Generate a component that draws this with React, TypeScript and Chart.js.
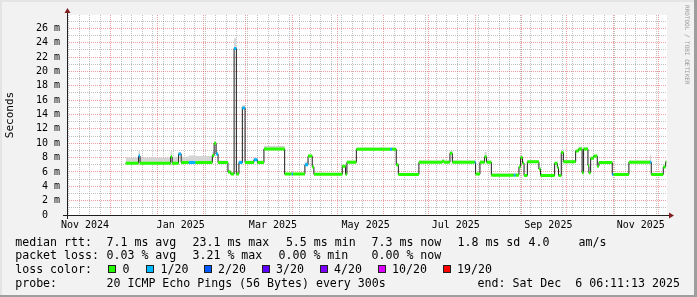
import React, { useEffect, useRef } from 'react';
import { Chart, registerables } from 'chart.js';

Chart.register(...registerables);

// ---- x axis: days since 2024-11-01 00:00 ----
const X_MIN = 0.8;
const X_MAX = 400.8;
const END_DAY = 400.3;
const Y_MAX = 27.85;

// step start (day), median rtt (ms), loss level (0 = 0/20, 1 = 1/20), smoke top (ms)
const stepDays = [39.9, 48.5, 49.5, 69.9, 70.9, 75.2, 76.9, 81.9, 86.5, 97.7, 98.9, 100.2, 101.5, 108.1, 109.9, 112.2, 113.7, 115.4, 117.7, 119.5, 125.4, 127.7, 132.1, 145.9, 150.5, 151.5, 159.4, 161.5, 164.3, 165.4, 184.3, 186.5, 187.4, 193.7, 216.2, 217.5, 220.3, 221.7, 235.4, 251.0, 252.2, 256.1, 257.7, 272.5, 273.2, 276.1, 279.2, 280.5, 283.7, 298.5, 299.9, 302.1, 303.2, 304.5, 305.5, 307.7, 315.4, 316.5, 325.9, 327.7, 328.5, 330.3, 331.7, 339.9, 341.9, 344.2, 345.2, 348.1, 348.7, 349.9, 351.9, 354.3, 355.4, 364.3, 365.2, 375.4, 389.5, 390.3, 398.3, 399.9];
const medianMs = [7.2, 8.2, 7.2, 8.1, 7.2, 8.5, 7.3, 7.3, 7.3, 8.3, 10.0, 8.5, 7.3, 6.0, 5.7, 23.2, 5.7, 7.3, 14.9, 7.3, 7.7, 7.3, 9.2, 5.7, 5.7, 5.7, 7.0, 8.2, 6.7, 5.67, 6.8, 5.67, 7.34, 9.15, 9.15, 9.15, 7.0, 5.65, 7.34, 7.5, 7.34, 8.6, 7.34, 7.34, 5.7, 7.34, 8.1, 7.34, 5.55, 5.55, 5.55, 6.7, 8.0, 7.2, 5.5, 7.4, 6.4, 5.5, 7.2, 6.6, 5.5, 8.7, 7.4, 8.9, 9.2, 5.9, 9.2, 6.9, 5.9, 7.9, 8.2, 6.8, 7.3, 5.65, 5.65, 7.34, 7.34, 5.65, 6.7, 7.4];
const lossLevel = [0, 1, 0, 0, 0, 1, 0, 1, 0, 0, 0, 1, 0, 0, 0, 1, 0, 1, 1, 0, 1, 0, 0, 0, 1, 0, 1, 0, 0, 0, 0, 0, 0, 0, 1, 0, 0, 0, 0, 0, 0, 0, 0, 1, 0, 0, 0, 0, 0, 1, 0, 0, 0, 0, 0, 0, 0, 0, 0, 0, 0, 0, 0, 0, 0, 0, 0, 0, 0, 0, 0, 0, 0, 1, 0, 0, 1, 0, 0, 0];
const smokeTopMs = [8.0, 9.0, 8.0, 9.0, 8.1, 8.8, 8.1, 8.3, 8.2, 8.8, 10.3, 8.8, 7.6, 6.3, 6.0, 24.6, 6.0, 7.6, 15.3, 7.6, 8.0, 7.6, 9.6, 5.9, 6.0, 5.9, 7.4, 8.4, 6.9, 5.9, 7.0, 5.9, 7.6, 9.4, 9.4, 9.4, 7.2, 5.9, 7.6, 7.8, 7.6, 8.9, 7.6, 7.6, 5.9, 7.6, 8.8, 7.6, 5.8, 5.8, 5.8, 6.9, 8.2, 7.4, 5.7, 7.6, 6.6, 5.7, 7.4, 6.8, 5.7, 8.9, 7.6, 9.1, 9.5, 6.1, 9.4, 7.1, 6.1, 8.1, 8.4, 7.0, 7.5, 5.9, 5.9, 7.6, 8.4, 5.9, 6.9, 7.6];

// ---- axes ----
const xLabelDays = [12.8, 76.6, 138.1, 199.9, 260.0, 321.7, 383.3];
const xLabels = ['Nov 2024', 'Jan 2025', 'Mar 2025', 'May 2025', 'Jul 2025', 'Sep 2025', 'Nov 2025'];
const monthStartDays = [30, 61, 92, 120, 151, 181, 212, 242, 273, 304, 334, 365, 395];
const firstSunday = 2;
const yMajorValues = [0, 2, 4, 6, 8, 10, 12, 14, 16, 18, 20, 22, 24, 26];
const yLabels = ['0', '2 m', '4 m', '6 m', '8 m', '10 m', '12 m', '14 m', '16 m', '18 m', '20 m', '22 m', '24 m', '26 m'];
const yMinorValues = [1, 3, 5, 7, 9, 11, 13, 15, 17, 19, 21, 23, 25, 27];

// ---- legend ----
const lossColors = ['#26ff00', '#00b8ff', '#0059ff', '#5e00ff', '#7e00ff', '#dd00ff', '#ff0000'];
const lossLabels = ['0', '1/20', '2/20', '3/20', '4/20', '10/20', '19/20'];
const lossBoxX = [108, 146, 203.5, 261.5, 319.5, 377.5, 442.5];
const legendRowTop = [234.7, 248.3, 262.3, 276.3];
const legendItems: [number, number, string][] = [
  [0, 15.2, 'median rtt:'], [0, 106.5, '7.1 ms avg'], [0, 192.5, '23.1 ms max'], [0, 285.9, '5.5 ms min'],
  [0, 371.5, '7.3 ms now'], [0, 457.5, '1.8 ms sd'], [0, 528.5, '4.0'], [0, 578.5, 'am/s'],
  [1, 15.2, 'packet loss:'], [1, 106.5, '0.03 % avg'], [1, 192.5, '3.21 % max'], [1, 278.5, '0.00 % min'], [1, 371.5, '0.00 % now'],
  [2, 15.2, 'loss color:'],
  [3, 15.2, 'probe:'], [3, 106.5, '20 ICMP Echo Pings (56 Bytes) every 300s'], [3, 477.5, 'end: Sat Dec  6 06:11:13 2025'],
];

const MONO = "'DejaVu Sans Mono', monospace";
const GRID = 'rgba(143,143,143,0.55)';
const MGRID = 'rgba(222,79,79,0.55)';

const rrdFrame = {
  id: 'rrdFrame',
  beforeDraw(chart: any) {
    const { ctx, chartArea } = chart;
    const { left, top, right, bottom } = chartArea;
    ctx.save();
    ctx.fillStyle = '#ffffff';
    ctx.fillRect(left, top, right - left, bottom - top);
    ctx.restore();
  },
  afterDraw(chart: any) {
    const { ctx, chartArea } = chart;
    const { left, top, right, bottom } = chartArea;
    ctx.save();
    ctx.strokeStyle = '#1f1f1f';
    ctx.lineWidth = 1;
    ctx.beginPath();
    ctx.moveTo(left - 4, bottom + 0.5);
    ctx.lineTo(right + 4, bottom + 0.5);
    ctx.moveTo(left + 0.5, bottom + 4);
    ctx.lineTo(left + 0.5, top - 4);
    ctx.stroke();
    ctx.fillStyle = '#801f1f';
    ctx.beginPath();
    ctx.moveTo(right + 2, bottom - 3 + 0.5);
    ctx.lineTo(right + 2, bottom + 3 + 0.5);
    ctx.lineTo(right + 7, bottom + 0.5);
    ctx.closePath();
    ctx.fill();
    ctx.beginPath();
    ctx.moveTo(left - 3 + 0.5, top - 2);
    ctx.lineTo(left + 3 + 0.5, top - 2);
    ctx.lineTo(left + 0.5, top - 7);
    ctx.closePath();
    ctx.fill();
    ctx.restore();
  },
};

function bandPoints(level: number) {
  const pts: { x: number; y: number | null }[] = [];
  stepDays.forEach((d, i) => {
    const e = i + 1 < stepDays.length ? stepDays[i + 1] : END_DAY;
    if (lossLevel[i] === level) {
      pts.push({ x: d, y: medianMs[i] }, { x: e, y: medianMs[i] }, { x: e, y: null });
    }
  });
  return pts;
}

export default function App() {
  const canvasRef = useRef<HTMLCanvasElement | null>(null);

  useEffect(() => {
    const canvas = canvasRef.current;
    if (!canvas) return;
    const medianPts = stepDays.map((d, i) => ({ x: d, y: medianMs[i] }));
    medianPts.push({ x: END_DAY, y: medianMs[medianMs.length - 1] });
    const smokePts = stepDays.map((d, i) => ({ x: d, y: smokeTopMs[i] }));
    smokePts.push({ x: END_DAY, y: smokeTopMs[smokeTopMs.length - 1] });

    const weekDays: number[] = [];
    for (let d = firstSunday; d <= X_MAX; d += 7) if (!monthStartDays.includes(d)) weekDays.push(d);

    const hiddenAxis = (ticksArr: number[], color: string, horizontal: boolean) => ({
      type: 'linear',
      position: horizontal ? 'bottom' : 'left',
      min: horizontal ? X_MIN : 0,
      max: horizontal ? X_MAX : Y_MAX,
      bounds: 'data',
      afterBuildTicks: (s: any) => { s.ticks = ticksArr.map((v) => ({ value: v })); },
      afterFit: (s: any) => { if (horizontal) s.height = 0; else s.width = 0; },
      grid: { color, lineWidth: 1, drawTicks: false },
      border: { display: false, dash: [1, 1] },
      ticks: { display: false },
    });

    const chart = new Chart(canvas, {
      type: 'line',
      data: {
        datasets: [
          { label: 'loss 0', data: bandPoints(0), borderColor: lossColors[0], borderWidth: 3, borderCapStyle: 'butt', pointRadius: 0, fill: false, spanGaps: false, xAxisID: 'x', yAxisID: 'y' },
          { label: 'loss 1/20', data: bandPoints(1), borderColor: lossColors[1], borderWidth: 3, borderCapStyle: 'butt', pointRadius: 0, fill: false, spanGaps: false, xAxisID: 'x', yAxisID: 'y' },
          { label: 'median', data: medianPts, stepped: true, borderColor: '#1c1c1c', borderWidth: 1, pointRadius: 0, fill: false, xAxisID: 'x', yAxisID: 'y' },
          { label: 'smoke', data: smokePts, stepped: true, borderColor: 'rgba(0,0,0,0)', borderWidth: 1, backgroundColor: '#d5d5d5', pointRadius: 0, fill: 2, xAxisID: 'x', yAxisID: 'y' },
        ] as any,
      },
      options: {
        responsive: false,
        animation: false,
        devicePixelRatio: 1,
        layout: { padding: { left: 0, right: 30, top: 15, bottom: 0 } },
        plugins: { legend: { display: false }, tooltip: { enabled: false } },
        scales: {
          x: {
            type: 'linear', position: 'bottom', min: X_MIN, max: X_MAX, bounds: 'data',
            afterBuildTicks: (s: any) => { s.ticks = xLabelDays.map((v) => ({ value: v })); },
            afterFit: (s: any) => { s.height = 82; },
            grid: { display: false, drawTicks: false },
            border: { display: false },
            ticks: { callback: (_v: any, i: number) => xLabels[i], font: { family: MONO, size: 10 }, color: '#000', padding: 4, maxRotation: 0, autoSkip: false },
          },
          xWeek: hiddenAxis(weekDays, GRID, true),
          xMonth: hiddenAxis(monthStartDays, MGRID, true),
          y: {
            type: 'linear', position: 'left', min: 0, max: Y_MAX, bounds: 'data',
            afterBuildTicks: (s: any) => { s.ticks = yMajorValues.map((v) => ({ value: v })); },
            afterFit: (s: any) => { s.width = 67; },
            grid: { color: MGRID, lineWidth: 1, drawTicks: false },
            border: { display: false, dash: [1, 1] },
            ticks: {
              callback: (_v: any, i: number) => (yLabels[i].includes('m') ? yLabels[i] : yLabels[i] + '  '),
              font: { family: MONO, size: 10 }, color: '#000', padding: 7, autoSkip: false,
            },
            title: { display: true, text: 'Seconds', font: { family: MONO, size: 11 }, color: '#000', padding: { top: 4, bottom: 0 } },
          },
          yMinor: hiddenAxis(yMinorValues, GRID, false),
        } as any,
      },
      plugins: [rrdFrame],
    } as any);
    return () => chart.destroy();
  }, []);

  return (
    <div style={{ position: 'absolute', left: 0, top: 0, width: 697, height: 297, background: '#f2f2f2', overflow: 'hidden', fontFamily: MONO }}>
      <canvas ref={canvasRef} width={697} height={297} style={{ position: 'absolute', left: 0, top: 0, width: 697, height: 297 }} />
      <div style={{ position: 'absolute', left: 0, top: 0, width: 697, height: 2, background: '#e4e4e4' }} />
      <div style={{ position: 'absolute', left: 0, top: 0, width: 2, height: 297, background: '#e4e4e4' }} />
      <div style={{ position: 'absolute', left: 694, top: 0, width: 3, height: 297, background: '#9e9e9e' }} />
      <div style={{ position: 'absolute', left: 0, top: 295, width: 697, height: 2, background: '#9e9e9e' }} />
      <div style={{ position: 'absolute', left: 682.5, top: 5, writingMode: 'vertical-rl', fontSize: 6, lineHeight: '8px', color: '#999999', whiteSpace: 'pre' }}>RRDTOOL / TOBI OETIKER</div>
      {legendItems.map(([row, x, text], i) => (
        <div key={'l' + i} style={{ position: 'absolute', left: x, top: legendRowTop[row], fontSize: 11.6, lineHeight: '14px', color: '#000', whiteSpace: 'pre' }}>{text}</div>
      ))}
      {lossColors.map((c, i) => (
        <React.Fragment key={'b' + i}>
          <div style={{ position: 'absolute', left: lossBoxX[i], top: 265, width: 8, height: 8, boxSizing: 'border-box', border: '1px solid #202020', background: c }} />
          <div style={{ position: 'absolute', left: lossBoxX[i] + 14.5, top: legendRowTop[2], fontSize: 11.6, lineHeight: '14px', color: '#000', whiteSpace: 'pre' }}>{lossLabels[i]}</div>
        </React.Fragment>
      ))}
    </div>
  );
}
